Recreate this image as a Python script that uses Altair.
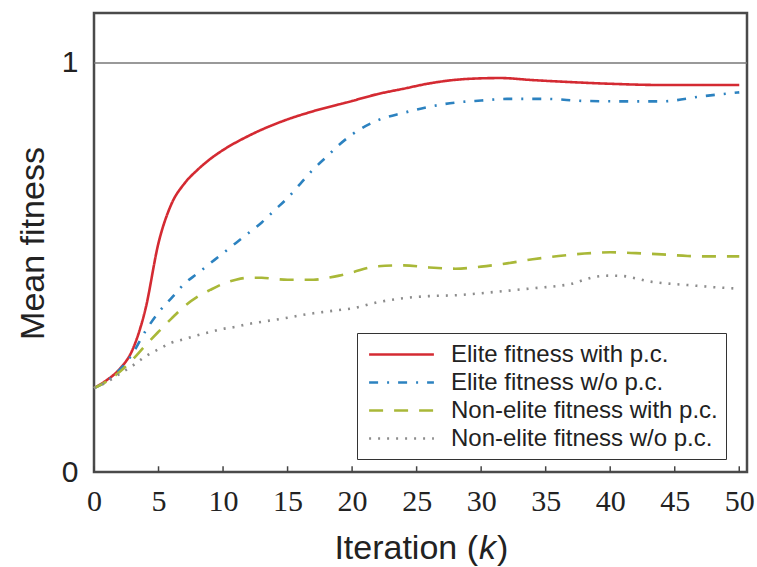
import altair as alt
import pandas as pd

series_names = [
    "Elite fitness with p.c.",
    "Elite fitness w/o p.c.",
    "Non-elite fitness with p.c.",
    "Non-elite fitness w/o p.c.",
]
series_colors = ["#d42a32", "#2c82c0", "#a9b838", "#8c8c8c"]
series_dashes = [[1, 0], [9, 9, 2, 9], [14, 11], [2, 7]]

red_k = [0, 1, 2, 3, 4, 5, 6, 7, 8, 9, 10, 12, 15, 17, 20, 22, 24, 26, 29, 31.5, 34, 37, 40, 44, 50]
red_v = [0.205, 0.225, 0.252, 0.30, 0.40, 0.56, 0.655, 0.705, 0.738, 0.765, 0.787, 0.822, 0.862,
         0.882, 0.907, 0.924, 0.937, 0.95, 0.961, 0.963, 0.958, 0.953, 0.949, 0.946, 0.946]

blue_k = [0, 1, 2, 3, 4, 5, 6, 7, 8, 9, 10, 11, 12, 13, 14, 15, 16, 17, 18, 19, 20, 22, 24, 26,
          28, 30, 32, 35, 38, 41, 44, 47, 50]
blue_v = [0.205, 0.222, 0.25, 0.29, 0.345, 0.39, 0.425, 0.46, 0.485, 0.51, 0.535, 0.56, 0.585,
          0.61, 0.64, 0.67, 0.705, 0.74, 0.77, 0.80, 0.825, 0.86, 0.878, 0.893, 0.903, 0.908,
          0.912, 0.912, 0.907, 0.906, 0.906, 0.918, 0.928]

green_k = [0, 1, 2, 3, 4, 5, 6, 7, 8, 9, 10, 11, 12, 13, 14, 15, 16, 17, 18, 19, 20, 22, 24, 26,
           28, 30, 32, 34, 36, 38, 40, 42, 44, 46, 48, 50]
green_v = [0.205, 0.222, 0.245, 0.275, 0.31, 0.343, 0.375, 0.405, 0.428, 0.445, 0.46, 0.47,
           0.475, 0.475, 0.472, 0.47, 0.47, 0.47, 0.474, 0.48, 0.488, 0.503, 0.505, 0.50, 0.497,
           0.502, 0.51, 0.52, 0.528, 0.534, 0.537, 0.535, 0.532, 0.528, 0.527, 0.527]

gray_k = [0, 1, 2, 3, 4, 5, 6, 7, 8, 9, 10, 11, 12, 13, 14, 15, 16, 17, 18, 19, 20, 22, 24, 26,
          28, 30, 32, 34, 36, 37, 38, 39, 40, 41, 42, 43, 44, 46, 48, 50]
gray_v = [0.205, 0.22, 0.24, 0.26, 0.283, 0.30, 0.316, 0.325, 0.334, 0.342, 0.35, 0.355, 0.362,
          0.367, 0.372, 0.377, 0.383, 0.388, 0.392, 0.396, 0.40, 0.415, 0.425, 0.43, 0.432,
          0.437, 0.443, 0.449, 0.455, 0.46, 0.47, 0.478, 0.48, 0.479, 0.473, 0.466, 0.462,
          0.457, 0.452, 0.448]

x_ticks = [0, 5, 10, 15, 20, 25, 30, 35, 40, 45, 50]
y_ticks = [0, 1]
ref_level = [1]

rows = []
for name, ks, vs in zip(series_names, [red_k, blue_k, green_k, gray_k],
                        [red_v, blue_v, green_v, gray_v]):
    for k, v in zip(ks, vs):
        rows.append({"series": name, "k": k, "v": v})
df = pd.DataFrame(rows)

xscale = alt.Scale(domain=[0, 50.6], nice=False, zero=False)
yscale = alt.Scale(domain=[0, 1.122], nice=False, zero=False)

x_axis = alt.Axis(values=x_ticks, ticks=False, domain=False, grid=False,
                  labelFontSize=30, labelFont="Liberation Sans Narrow",
                  labelColor="#222", labelPadding=14, labelFlush=False, labelOverlap=False)
y_axis = alt.Axis(values=y_ticks, format="d", ticks=False, domain=False, grid=False,
                  labelFontSize=30, labelFont="Liberation Sans", labelColor="#222",
                  labelPadding=16, titleFontSize=34, titleFont="Liberation Sans",
                  titleFontWeight="normal", titleColor="#222", titleX=-51,
                  titleY=230, titleAngle=270, titleBaseline="alphabetic")

x_enc = alt.X("k:Q", scale=xscale, title=None, axis=x_axis)
y_enc = alt.Y("v:Q", scale=yscale, title="Mean fitness", axis=y_axis)

lines = alt.Chart(df).mark_line(strokeWidth=2.6, interpolate="monotone").encode(
    x=x_enc,
    y=y_enc,
    color=alt.Color("series:N", scale=alt.Scale(domain=series_names, range=series_colors),
                    title=None,
                    legend=alt.Legend(orient="none", legendX=263, legendY=320,
                                      symbolType="M-2.7,0H2.7", symbolSize=576,
                                      symbolOffset=23,
                                      symbolStrokeWidth=2.5, labelFontSize=24,
                                      labelFont="Liberation Sans", labelColor="#222",
                                      labelLimit=400, padding=8, rowPadding=2,
                                      labelOffset=36, strokeColor="#333",
                                      fillColor="white")),
    strokeDash=alt.StrokeDash("series:N",
                              scale=alt.Scale(domain=series_names, range=series_dashes),
                              title=None),
    order=alt.Order("k:Q"),
)

ref = alt.Chart(pd.DataFrame({"v": ref_level})).mark_rule(color="#777", strokeWidth=1.5).encode(
    y=y_enc
)

tick_df = pd.DataFrame({"k": x_ticks, "v": [0] * len(x_ticks), "v2": [0.014] * len(x_ticks)})
ticks = alt.Chart(tick_df).mark_rule(color="#444", strokeWidth=1.5).encode(
    x=x_enc,
    y=y_enc,
    y2="v2:Q",
)

one = pd.DataFrame({"a": [0]})
t1 = alt.Chart(one).mark_text(text="Iteration (", fontSize=34, font="Liberation Sans",
                              align="right", baseline="alphabetic", color="#222").encode(
    x=alt.value(384), y=alt.value(546))
t2 = alt.Chart(one).mark_text(text="k", fontSize=34, font="Liberation Sans", fontStyle="italic",
                              align="left", baseline="alphabetic", color="#222").encode(
    x=alt.value(385), y=alt.value(546))
t3 = alt.Chart(one).mark_text(text=")", fontSize=34, font="Liberation Sans",
                              align="left", baseline="alphabetic", color="#222").encode(
    x=alt.value(403), y=alt.value(546))

chart = alt.layer(ref, ticks, lines, t1, t2, t3).properties(
    width=653, height=459,
    padding={"left": 94, "top": 13, "right": 10, "bottom": 95},
    autosize=alt.AutoSizeParams(type="none"),
    background="white",
).configure_view(stroke="#4a4a4a", strokeWidth=2.5)

chart.save("out.html", embed_options={"renderer": "svg", "actions": False})
